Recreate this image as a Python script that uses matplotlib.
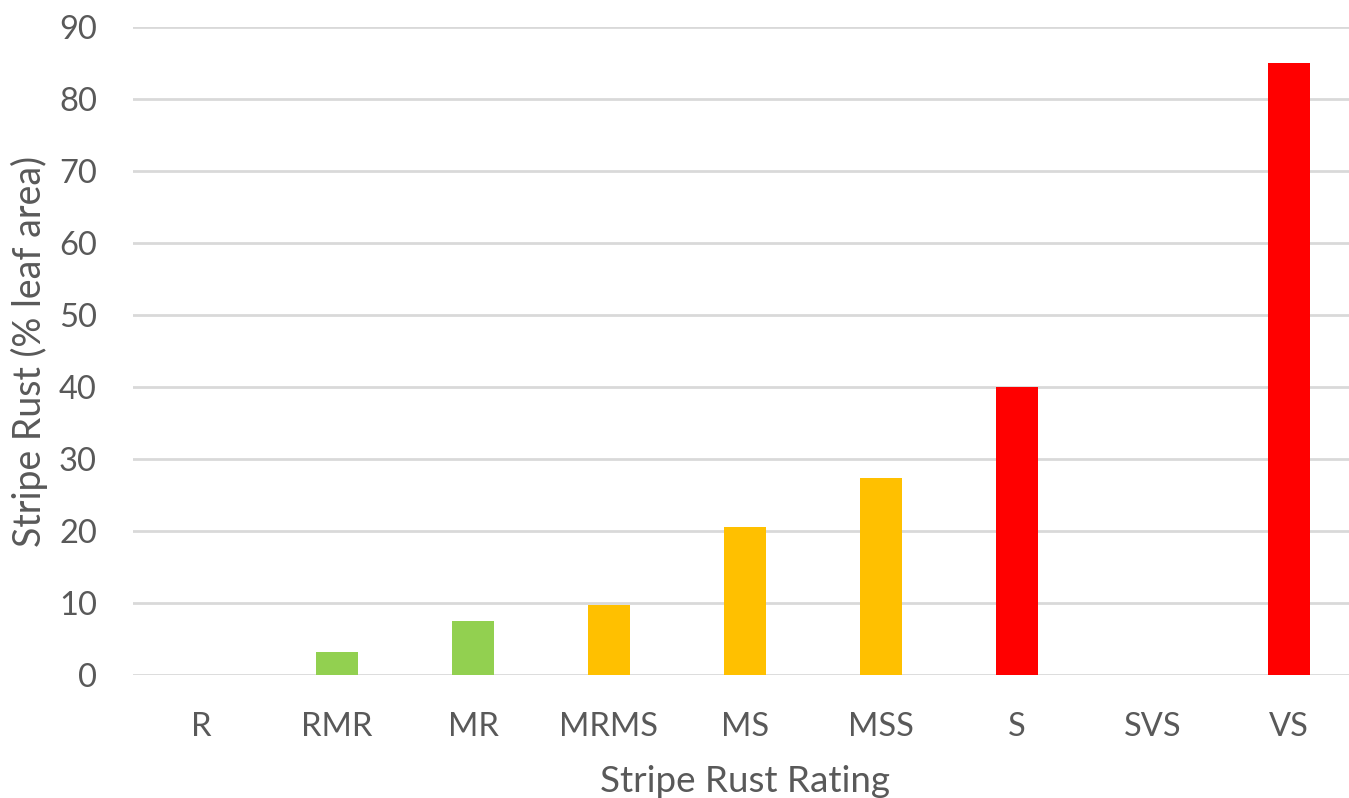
import matplotlib.pyplot as plt

# data
ratings = ["R", "RMR", "MR", "MRMS", "MS", "MSS", "S", "SVS", "VS"]
rust_pct = [0, 3.2, 7.5, 9.7, 20.5, 27.3, 40, 0, 85]
bar_colors = ["#92D050", "#92D050", "#92D050", "#FFC000", "#FFC000",
              "#FFC000", "#FF0000", "#FF0000", "#FF0000"]

plt.rcParams['font.family'] = ['Lato', 'DejaVu Sans']
text_col = "#595959"

fig = plt.figure(figsize=(13.49, 7.98), dpi=100)
ax = fig.add_axes([133 / 1349, 123 / 798, 1224 / 1349, 648 / 798])

ax.bar(range(len(ratings)), rust_pct, width=0.31, color=bar_colors, zorder=3)

ax.set_xlim(-0.5, len(ratings) - 0.5)
ax.set_ylim(0, 90)
ax.set_yticks(range(0, 91, 10))
ax.set_xticks(range(len(ratings)))
ax.set_xticklabels(ratings)

ax.grid(axis='y', color="#D9D9D9", linewidth=2, zorder=0)
for s in ax.spines.values():
    s.set_visible(False)
ax.tick_params(length=0, labelsize=23.5, colors=text_col)
ax.tick_params(axis='y', pad=26)
ax.tick_params(axis='x', pad=27)

ax.set_xlabel("Stripe Rust Rating", fontsize=26.5, color=text_col, labelpad=16)
ax.set_ylabel("Stripe Rust (% leaf area)", fontsize=27, color=text_col, labelpad=8)

fig.savefig("out.png", dpi=100)
